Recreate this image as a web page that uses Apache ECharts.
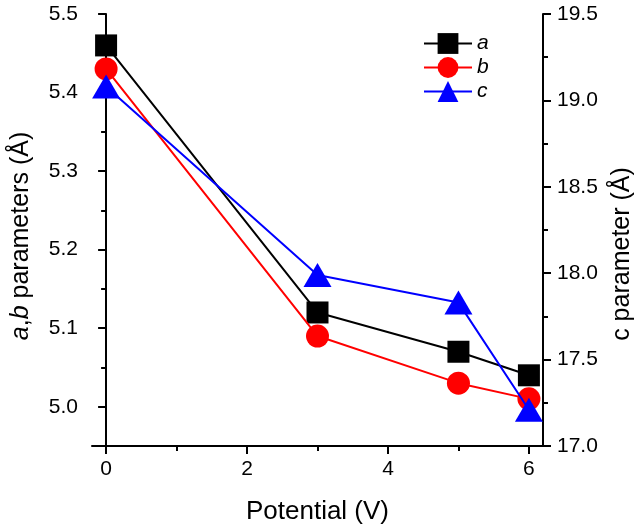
<!DOCTYPE html>
<html>
<head>
<meta charset="utf-8">
<script src="https://cdn.jsdelivr.net/npm/echarts@6.0.0/dist/echarts.min.js"></script>
<style>html,body{margin:0;padding:0;background:#fff;}#c{width:642px;height:529px;}</style>
</head>
<body>
<div id="c"></div>
<script>
// Data
const potential = [0, 3, 5, 6];
const aValues = [5.46, 5.12, 5.07, 5.04];
const bValues = [5.43, 5.09, 5.03, 5.01];
const cValues = [19.08, 17.99, 17.83, 17.21];
const xMajorTicks = [0, 2, 4, 6];
const xMinorTicks = [1, 3, 5];
const abMajorTicks = [5.0, 5.1, 5.2, 5.3, 5.4, 5.5];
const abMinorTicks = [4.95, 5.05, 5.15, 5.25, 5.35, 5.45];
const cMajorTicks = [17.0, 17.5, 18.0, 18.5, 19.0, 19.5];
const cMinorTicks = [17.25, 17.75, 18.25, 18.75, 19.25];

const FONT = 'Liberation Sans';
const pairs = (xs, ys) => xs.map((x, i) => [x, ys[i]]);

const axisLineStyle = { show: true, lineStyle: { color: '#000', width: 2 } };
const labelStyle = { fontFamily: FONT, fontSize: 21, color: '#000' };

const chart = echarts.init(document.getElementById('c'), null, { renderer: 'canvas' });
chart.setOption({
  animation: false,
  backgroundColor: '#fff',
  grid: { left: 92, right: 99, top: 14, bottom: 83, containLabel: false, outerBoundsMode: 'none' },
  legend: {
    orient: 'vertical',
    left: 418, top: 28,
    itemWidth: 48, itemHeight: 26, itemGap: 3,
    data: ['a', 'b', 'c'],
    textStyle: { fontFamily: FONT, fontSize: 21, fontStyle: 'italic', color: '#000' }
  },
  xAxis: [
    {
      type: 'value', min: -0.2, max: 6.2, position: 'bottom',
      axisLine: axisLineStyle,
      axisTick: { show: true, customValues: xMajorTicks, length: 8, lineStyle: { width: 2, color: '#000' } },
      axisLabel: { show: true, customValues: xMajorTicks, margin: 13, ...labelStyle },
      splitLine: { show: false },
      name: 'Potential (V)', nameLocation: 'middle', nameGap: 53,
      nameTextStyle: { fontFamily: FONT, fontSize: 26, color: '#000' }
    },
    {
      type: 'value', min: -0.2, max: 6.2, position: 'bottom',
      axisLine: { show: false },
      axisTick: { show: true, customValues: xMinorTicks, length: 5, lineStyle: { width: 2, color: '#000' } },
      axisLabel: { show: false },
      splitLine: { show: false }
    }
  ],
  yAxis: [
    {
      type: 'value', min: 4.95, max: 5.5, position: 'left',
      axisLine: axisLineStyle,
      axisTick: { show: true, customValues: abMajorTicks, length: 8, lineStyle: { width: 2, color: '#000' } },
      axisLabel: { show: true, customValues: abMajorTicks, margin: 14, formatter: v => v.toFixed(1), ...labelStyle },
      splitLine: { show: false },
      name: '{i|a},{i|b} parameters (Å)', nameLocation: 'middle', nameRotate: 90, nameGap: 58,
      nameTextStyle: { fontFamily: FONT, fontSize: 25, color: '#000', padding: [0, 12, 0, 0],
        rich: { i: { fontFamily: FONT, fontSize: 25, fontStyle: 'italic', color: '#000' } } }
    },
    {
      type: 'value', min: 4.95, max: 5.5, position: 'left',
      axisLine: { show: false },
      axisTick: { show: true, customValues: abMinorTicks, length: 5, lineStyle: { width: 2, color: '#000' } },
      axisLabel: { show: false },
      splitLine: { show: false }
    },
    {
      type: 'value', min: 17, max: 19.5, position: 'right',
      axisLine: axisLineStyle,
      axisTick: { show: true, customValues: cMajorTicks, length: 8, lineStyle: { width: 2, color: '#000' } },
      axisLabel: { show: true, customValues: cMajorTicks, margin: 14, formatter: v => v.toFixed(1), ...labelStyle },
      splitLine: { show: false },
      name: 'c parameter (Å)', nameLocation: 'middle', nameRotate: 90, nameGap: 67,
      nameTextStyle: { fontFamily: FONT, fontSize: 25, color: '#000', padding: [0, 48, 0, 0] }
    },
    {
      type: 'value', min: 17, max: 19.5, position: 'right',
      axisLine: { show: false },
      axisTick: { show: true, customValues: cMinorTicks, length: 5, lineStyle: { width: 2, color: '#000' } },
      axisLabel: { show: false },
      splitLine: { show: false }
    }
  ],
  series: [
    {
      name: 'a', type: 'line', xAxisIndex: 0, yAxisIndex: 0,
      data: pairs(potential, aValues),
      symbol: 'rect', symbolSize: 22,
      lineStyle: { color: '#000', width: 2 },
      itemStyle: { color: '#000' }, z: 2
    },
    {
      name: 'b', type: 'line', xAxisIndex: 0, yAxisIndex: 0,
      data: pairs(potential, bValues),
      symbol: 'circle', symbolSize: 23,
      lineStyle: { color: '#ff0000', width: 2 },
      itemStyle: { color: '#ff0000' }, z: 3
    },
    {
      name: 'c', type: 'line', xAxisIndex: 0, yAxisIndex: 2,
      data: pairs(potential, cValues),
      symbol: 'triangle', symbolSize: [28, 24],
      lineStyle: { color: '#0000ff', width: 2 },
      itemStyle: { color: '#0000ff' }, z: 4
    }
  ]
});
</script>
</body>
</html>
